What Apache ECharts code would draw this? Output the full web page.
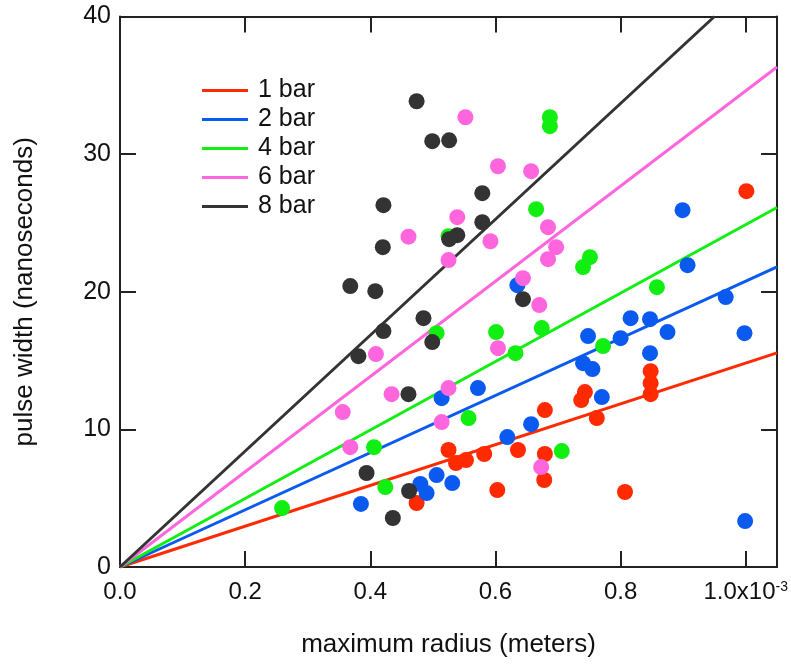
<!DOCTYPE html>
<html><head><meta charset="utf-8">
<script src="https://cdn.jsdelivr.net/npm/echarts@6/dist/echarts.min.js"></script>
<style>html,body{margin:0;padding:0;background:#fff}#c{width:791px;height:664px}</style>
</head><body><div id="c"></div>
<script>
// x values in units of 1e-3 m, y in nanoseconds
const seriesNames = ['1 bar', '2 bar', '4 bar', '6 bar', '8 bar'];
const seriesColors = ['#ff2a00', '#0a5af0', '#11ee11', '#ff66dd', '#333333'];

const pts1bar = [
  [1.001, 27.31], [0.848, 14.23], [0.848, 13.36], [0.848, 12.56], [0.743, 12.71], [0.737, 12.13],
  [0.762, 10.82], [0.679, 11.40], [0.636, 8.50], [0.679, 8.21], [0.582, 8.21], [0.525, 8.50],
  [0.537, 7.55], [0.553, 7.77], [0.474, 4.65], [0.603, 5.59], [0.678, 6.32], [0.807, 5.45]
];
const pts2bar = [
  [0.899, 25.93], [0.907, 21.93], [0.968, 19.61], [0.635, 20.48], [0.998, 16.99], [0.816, 18.08],
  [0.847, 18.01], [0.875, 17.07], [0.800, 16.63], [0.748, 16.78], [0.847, 15.54], [0.740, 14.81],
  [0.755, 14.38], [0.770, 12.35], [0.572, 13.00], [0.514, 12.27], [0.657, 10.38], [0.619, 9.44],
  [0.999, 3.34], [0.385, 4.58], [0.506, 6.68], [0.480, 6.03], [0.490, 5.37], [0.531, 6.10]
];
const pts4bar = [
  [0.687, 32.68], [0.687, 32.03], [0.665, 26.00], [0.525, 24.04], [0.751, 22.51], [0.740, 21.79],
  [0.858, 20.33], [0.506, 16.99], [0.601, 17.07], [0.674, 17.36], [0.632, 15.54], [0.772, 16.05],
  [0.557, 10.82], [0.706, 8.42], [0.406, 8.71], [0.424, 5.81], [0.259, 4.28]
];
const pts6bar = [
  [0.552, 32.68], [0.604, 29.12], [0.657, 28.76], [0.539, 25.42], [0.461, 24.00], [0.684, 24.69],
  [0.592, 23.67], [0.697, 23.24], [0.684, 22.37], [0.525, 22.30], [0.644, 20.99], [0.670, 19.03],
  [0.604, 15.90], [0.409, 15.47], [0.525, 13.00], [0.434, 12.56], [0.356, 11.26], [0.514, 10.53],
  [0.368, 8.71], [0.673, 7.26]
];
const pts8bar = [
  [0.474, 33.84], [0.499, 30.94], [0.526, 31.00], [0.421, 26.29], [0.420, 23.24], [0.368, 20.41],
  [0.408, 20.04], [0.579, 27.16], [0.579, 25.05], [0.539, 24.11], [0.526, 23.82], [0.485, 18.08],
  [0.421, 17.14], [0.381, 15.32], [0.499, 16.34], [0.461, 12.56], [0.394, 6.83], [0.462, 5.52],
  [0.436, 3.56], [0.644, 19.46]
];
const allPoints = [pts1bar, pts2bar, pts4bar, pts6bar, pts8bar];

// fitted lines through origin: [x start, x end], [y start, y end]
const fitX = [[0, 1.05], [0, 1.05], [0, 1.05], [0, 1.05], [0, 0.95]];
const fitY = [[0, 15.56], [0, 21.81], [0, 26.12], [0, 36.33], [0, 40]];

const xTicks = { min: 0, max: 1.05, interval: 0.2 };
const yTicks = { min: 0, max: 40, interval: 10 };

const FONT = 'Liberation Sans, Arial, Helvetica, sans-serif';
const axisCol = '#222';

const lineSeries = seriesNames.map((n, i) => ({
  name: n, type: 'line', color: seriesColors[i], symbol: 'none', silent: true,
  lineStyle: { width: 3, color: seriesColors[i] }, z: 2,
  data: fitX[i].map((x, k) => [x, fitY[i][k]])
}));
const scatterSeries = seriesNames.map((n, i) => ({
  name: n + ' data', type: 'scatter', color: seriesColors[i], symbolSize: 16, z: 3,
  itemStyle: { color: seriesColors[i], opacity: 1 },
  data: allPoints[i]
}));

function xFmt(v) {
  if (Math.abs(v - 1) < 1e-9) return '1.0x10{sup|-3}';
  if (Math.abs(v * 5 - Math.round(v * 5)) < 1e-6) return v.toFixed(1);
  return '';
}

const baseAxis = {
  axisLine: { show: true, onZero: false, lineStyle: { color: axisCol, width: 2 } },
  axisTick: { show: true, inside: true, length: 16, lineStyle: { color: axisCol, width: 2 } },
  splitLine: { show: false }
};

const chart = echarts.init(document.getElementById('c'), null, { renderer: 'canvas' });
chart.setOption({
  animation: false,
  backgroundColor: '#fff',
  textStyle: { fontFamily: FONT },
  grid: { left: 120, right: 12, top: 16.5, bottom: 97, containLabel: false },
  legend: {
    data: seriesNames, orient: 'vertical', left: 197, top: 73, icon: 'rect',
    itemWidth: 46, itemHeight: 3, itemGap: 4,
    textStyle: { fontSize: 25, lineHeight: 25, color: '#111', fontFamily: FONT, padding: [0, 0, 0, 5] }
  },
  xAxis: [
    Object.assign({}, baseAxis, {
      type: 'value', min: xTicks.min, max: xTicks.max, interval: xTicks.interval, position: 'bottom',
      name: 'maximum radius (meters)', nameLocation: 'middle', nameGap: 65,
      nameTextStyle: { fontSize: 26, color: '#111', fontFamily: FONT },
      axisLabel: {
        fontSize: 24, color: '#111', margin: 13, fontFamily: FONT, formatter: xFmt,
        showMaxLabel: false,
        rich: { sup: { fontSize: 14, verticalAlign: 'top', color: '#111', fontFamily: FONT } }
      }
    }),
    Object.assign({}, baseAxis, {
      type: 'value', min: xTicks.min, max: xTicks.max, interval: xTicks.interval, position: 'top',
      axisLabel: { show: false }
    })
  ],
  yAxis: [
    Object.assign({}, baseAxis, {
      type: 'value', min: yTicks.min, max: yTicks.max, interval: yTicks.interval, position: 'left',
      name: 'pulse width (nanoseconds)', nameLocation: 'middle', nameGap: 82, nameRotate: 90,
      nameTextStyle: { fontSize: 26, color: '#111', fontFamily: FONT },
      axisLabel: { fontSize: 25, color: '#111', margin: 9, fontFamily: FONT }
    }),
    Object.assign({}, baseAxis, {
      type: 'value', min: yTicks.min, max: yTicks.max, interval: yTicks.interval, position: 'right',
      axisLabel: { show: false }
    })
  ],
  series: lineSeries.concat(scatterSeries)
});
</script>
</body></html>
